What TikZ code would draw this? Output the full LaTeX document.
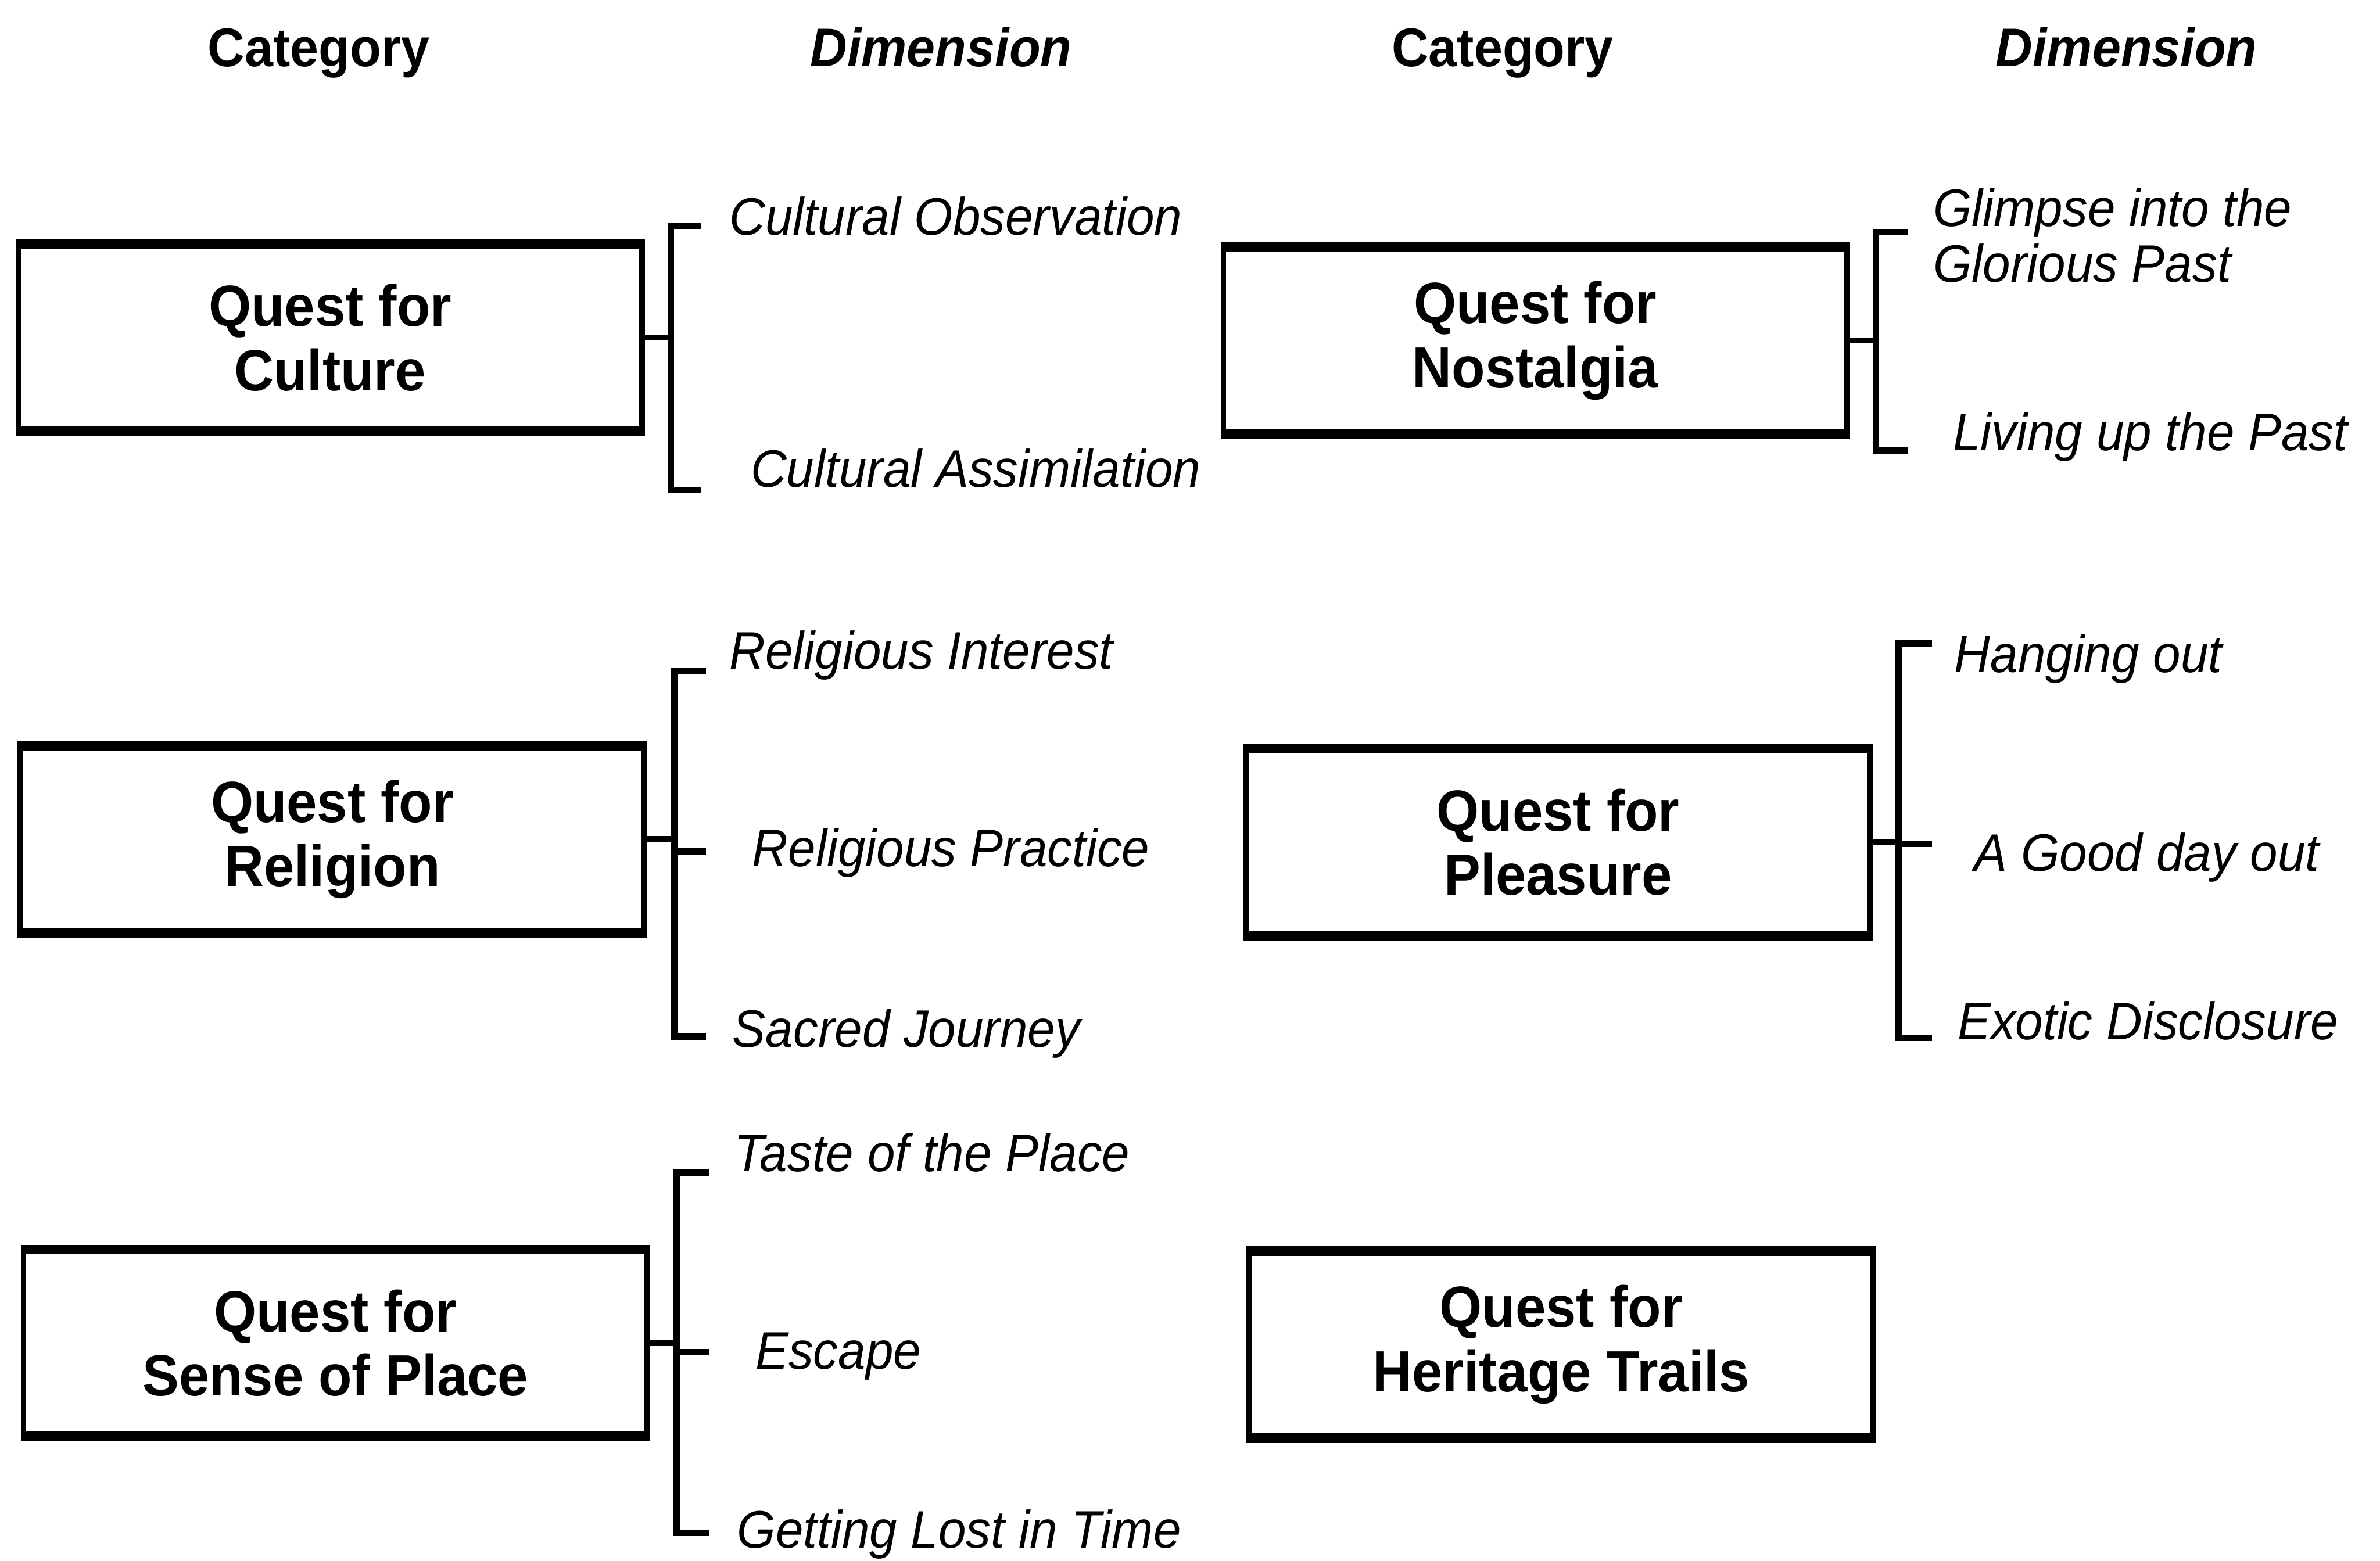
\documentclass[tikz,border=0pt]{standalone}
\usepackage{fontspec}
\setmainfont{Liberation Sans}[FakeStretch=0.94]
\begin{document}
\begin{tikzpicture}[x=0.1mm,y=-0.1mm,
  catbox/.style={draw, line width=1.05pt, minimum width=41.1mm, minimum height=12.05mm,
    inner sep=0pt, align=center, font=\fontsize{10.9}{12}\selectfont\bfseries},
  dim/.style={anchor=base west, inner sep=0pt, align=left,
    font=\fontsize{9.9}{10.5}\selectfont\itshape},
  head/.style={anchor=base, inner sep=0pt, font=\fontsize{10.2}{12}\selectfont\bfseries},
  edgeline/.style={line width=1.5pt},
  spine/.style={line width=1.25pt, line join=miter},
  stub/.style={line width=1.1pt}]
\useasboundingbox (0,0) rectangle (1568,1028.6);

% column headings
\node[head] (h1) at (210,44) {Category};
\node[head, font=\fontsize{10.2}{12}\selectfont\bfseries\itshape] (h2) at (620,44) {Dimension};
\node[head] (h3) at (990,44) {Category};
\node[head, font=\fontsize{10.2}{12}\selectfont\bfseries\itshape] (h4) at (1401,44) {Dimension};

% category boxes
\node[catbox] (culture)   at (217.5,222.5) {Quest for\\Culture};
\node[catbox] (nostalgia) at (1011.5,224.5) {Quest for\\Nostalgia};
\node[catbox] (religion)  at (219,553) {Quest for\\Religion};
\node[catbox] (pleasure)  at (1026.5,555) {Quest for\\Pleasure};
\node[catbox] (place)     at (221,885) {Quest for\\Sense of Place};
\node[catbox] (heritage)  at (1028.5,886) {Quest for\\Heritage Trails};
\foreach \b in {culture,nostalgia,religion,pleasure,place,heritage}{
  \draw[edgeline] (\b.north west) -- (\b.north east);
  \draw[edgeline] (\b.south west) -- (\b.south east);
}

% dimension labels (base = baseline of the last line)
\node[dim] (co) at (480,155) {Cultural Observation};
\node[dim] (ca) at (494,321) {Cultural Assimilation};
\node[dim] (gp) at (1273,186) {Glimpse into the\\Glorious Past};
\node[dim] (lp) at (1286,297) {Living up the Past};
\node[dim] (ri) at (480,441) {Religious Interest};
\node[dim] (rp) at (495,571) {Religious Practice};
\node[dim] (sj) at (482,690) {Sacred Journey};
\node[dim] (ho) at (1287,443) {Hanging out};
\node[dim] (gd) at (1300,574) {A Good day out};
\node[dim] (ed) at (1289,685) {Exotic Disclosure};
\node[dim] (tp) at (483,772) {Taste of the Place};
\node[dim] (es) at (497,902) {Escape};
\node[dim] (gl) at (485,1020) {Getting Lost in Time};

% bracket corners and tick ends
\coordinate (b1t) at (442,149);  \coordinate (b1b) at (442,323);
\coordinate (b1a) at (462,149);  \coordinate (b1z) at (462,323);
\coordinate (b2t) at (1236,153); \coordinate (b2b) at (1236,297);
\coordinate (b2a) at (1257,153); \coordinate (b2z) at (1257,297);
\coordinate (b3t) at (444,442);  \coordinate (b3b) at (444,683);
\coordinate (b3a) at (465,442);  \coordinate (b3z) at (465,683);
\coordinate (b3m) at (444,561);  \coordinate (b3n) at (465,561);
\coordinate (b4t) at (1251,424); \coordinate (b4b) at (1251,684);
\coordinate (b4a) at (1273,424); \coordinate (b4z) at (1273,684);
\coordinate (b4m) at (1251,556); \coordinate (b4n) at (1273,556);
\coordinate (b5t) at (446,773);  \coordinate (b5b) at (446,1010);
\coordinate (b5a) at (467,773);  \coordinate (b5z) at (467,1010);
\coordinate (b5m) at (446,891);  \coordinate (b5n) at (467,891);

% brackets
\draw[spine] (b1a) -- (b1t) -- (b1b) -- (b1z);
\draw[spine] (b2a) -- (b2t) -- (b2b) -- (b2z);
\draw[spine] (b3a) -- (b3t) -- (b3b) -- (b3z);
\draw[spine] (b3m) -- (b3n);
\draw[spine] (b4a) -- (b4t) -- (b4b) -- (b4z);
\draw[spine] (b4m) -- (b4n);
\draw[spine] (b5a) -- (b5t) -- (b5b) -- (b5z);
\draw[spine] (b5m) -- (b5n);

% stubs from boxes to brackets
\draw[stub] (culture.east)   -- (culture.east -| b1t);
\draw[stub] (nostalgia.east) -- (nostalgia.east -| b2t);
\draw[stub] (religion.east)  -- (religion.east -| b3t);
\draw[stub] (pleasure.east)  -- (pleasure.east -| b4t);
\draw[stub] (place.east)     -- (place.east -| b5t);
\end{tikzpicture}
\end{document}
